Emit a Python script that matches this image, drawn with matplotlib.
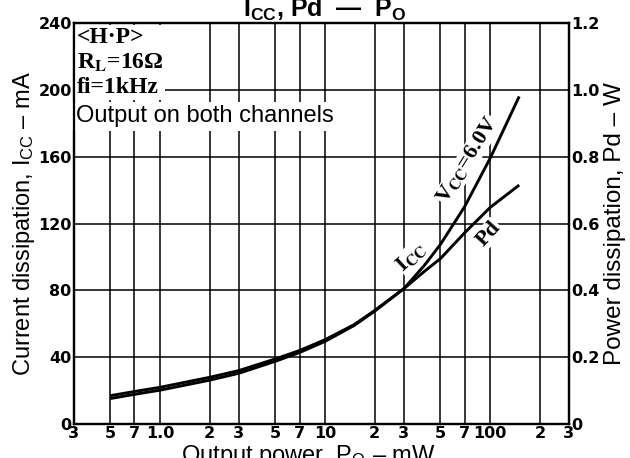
import numpy as np
import matplotlib
matplotlib.use('Agg')
import matplotlib.pyplot as plt
from matplotlib.ticker import FixedLocator, NullLocator

plt.rcParams['font.family'] = ['Liberation Sans', 'DejaVu Sans']
plt.rcParams['mathtext.fontset'] = 'custom'
plt.rcParams['mathtext.rm'] = 'Liberation Sans'
plt.rcParams['mathtext.it'] = 'Liberation Sans'
plt.rcParams['mathtext.bf'] = 'Liberation Sans:bold'

# data
po = [0.5, 0.7, 1.0, 2, 3, 5, 7, 10, 15, 20, 30, 40, 50, 70, 100, 150]
icc = [17, 19.5, 22, 28, 32, 39, 44, 50.5, 59.5, 68, 81, 95, 107.5, 130, 159, 196]
pd = [0.0765, 0.089, 0.1015, 0.1315, 0.152, 0.188, 0.214, 0.2475, 0.295, 0.338, 0.405,
      0.457, 0.495, 0.572, 0.648, 0.715]

x_ticks = [0.3, 0.5, 0.7, 1, 2, 3, 5, 7, 10, 20, 30, 50, 70, 100, 200, 300]
x_labels = ['3', '5', '7', '1.0', '2', '3', '5', '7', '10', '2', '3', '5', '7', '100', '2', '3']
y_ticks = [0, 40, 80, 120, 160, 200, 240]
y2_labels = ['0', '0.2', '0.4', '0.6', '0.8', '1.0', '1.2']

fig = plt.figure(figsize=(6.3, 4.58), dpi=100)
ax = fig.add_axes([0.117, 0.074, 0.786, 0.876])
ax.set_xscale('log')
ax.set_xlim(0.3, 300)
ax.set_ylim(0, 240)

# grid
for xv in x_ticks[1:-1]:
    ax.axvline(xv, color='black', lw=1.1, zorder=1)
for yv in y_ticks[1:-1]:
    ax.axhline(yv, color='black', lw=1.1, zorder=1)

ax.plot(po, icc, color='black', lw=2.1, zorder=3, solid_capstyle='butt')
# Pd on the right scale: 1.2 W == 240 mA
ax.plot(po, np.array(pd) * 200, color='black', lw=2.1, zorder=3, solid_capstyle='butt')

tick_font = dict(fontweight='bold', fontsize=11.5, family='DejaVu Sans')
ax.xaxis.set_major_locator(FixedLocator(x_ticks))
ax.xaxis.set_minor_locator(NullLocator())
ax.set_xticklabels(x_labels, **tick_font)
ax.set_yticks(y_ticks)
ax.set_yticklabels([str(v) for v in y_ticks], **tick_font)
ax.tick_params(length=0, pad=1.5)

ax2 = ax.twinx()
ax2.set_ylim(0, 1.2)
ax2.set_yticks([0, 0.2, 0.4, 0.6, 0.8, 1.0, 1.2])
ax2.set_yticklabels(y2_labels, **tick_font)
ax2.tick_params(length=0, pad=2)

for a in (ax, ax2):
    for s in a.spines.values():
        s.set_linewidth(1.6)

ax.set_ylabel('Current dissipation, I$_{\\rm CC}$ – mA', fontsize=17, labelpad=1)
ax2.set_ylabel('Power dissipation, Pd – W', fontsize=17.5, labelpad=3)
fig.text(0.49, 0.033, 'Output power, P$_{\\rm O}$ – mW', fontsize=17, ha='center', va='top')
fig.text(0.515, 0.963, 'I$_{\\mathbf{CC}}$, Pd  —  P$_{\\mathbf{O}}$', fontsize=18,
         fontweight='bold', ha='center', va='baseline')

white = dict(facecolor='white', edgecolor='none', pad=1.0)
ax.text(0.006, 0.99, '<H·P>\nR$_\\mathbf{L}$=16Ω\nfi=1kHz', transform=ax.transAxes,
        fontsize=17, fontweight='bold', family='Liberation Serif', math_fontfamily='stix',
        va='top', ha='left', linespacing=1.22, bbox=white, zorder=5)
ax.text(0.004, 0.795, 'Output on both channels', transform=ax.transAxes, fontsize=17,
        va='top', ha='left', bbox=dict(facecolor='white', edgecolor='none', pad=2.5), zorder=5)

lab = dict(fontsize=16, fontweight='bold', family='Liberation Serif', math_fontfamily='stix',
           ha='center', va='center', zorder=5,
           bbox=dict(facecolor='white', edgecolor='none', pad=0.3))
ax.text(33, 100, 'I$_\\mathbf{CC}$', rotation=43, **lab)
ax.text(73, 158, 'V$_\\mathbf{CC}$=6.0V', rotation=58, **lab)
ax.text(98, 114, 'Pd', rotation=48, **lab)

fig.savefig('out.png', dpi=100)
